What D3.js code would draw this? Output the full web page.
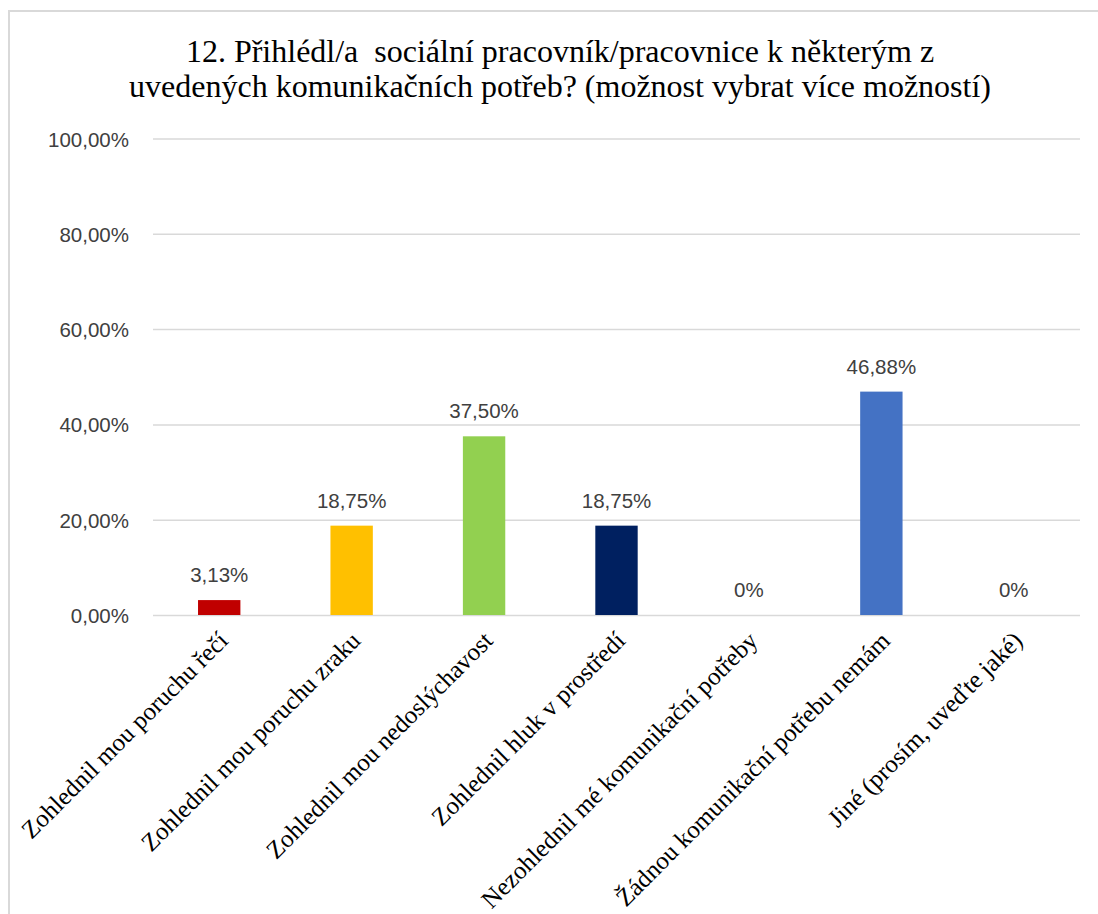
<!DOCTYPE html>
<html>
<head>
<meta charset="utf-8">
<script src="https://cdn.jsdelivr.net/npm/d3@7"></script>
<style>
  body { margin: 0; background: #fff; }
  .title { font-family: "Liberation Serif", "Times New Roman", serif; font-size: 32px; fill: #000; white-space: pre; }
  .y-axis text, .bar-label { font-family: "Liberation Sans", Arial, sans-serif; font-size: 20.5px; fill: #404040; }
  .x-label { font-family: "Liberation Serif", "Times New Roman", serif; font-size: 25px; fill: #000; }
  .y-axis line { stroke: #d9d9d9; stroke-width: 1.5; }
  .y-axis .domain { display: none; }
</style>
</head>
<body>
<div id="chart"></div>
<script>
// data
var titleLines = [
  "12. Přihlédl/a  sociální pracovník/pracovnice k některým z",
  "uvedených komunikačních potřeb? (možnost vybrat více možností)"
];
var categories = [
  "Zohlednil mou poruchu řečí",
  "Zohlednil mou poruchu zraku",
  "Zohlednil mou nedoslýchavost",
  "Zohlednil hluk v prostředí",
  "Nezohlednil mé komunikační potřeby",
  "Žádnou komunikační potřebu nemám",
  "Jiné (prosím, uveďte jaké)"
];
var values = [0.0313, 0.1875, 0.375, 0.1875, 0, 0.4688, 0];
var colors = ["#c00000", "#ffc000", "#92d050", "#002060", "#4472c4", "#4472c4", "#4472c4"];
var yTicks = [0, 0.2, 0.4, 0.6, 0.8, 1];

var locale = d3.formatLocale({ decimal: ",", thousands: " ", grouping: [3], currency: ["", " Kč"] });
var pct = locale.format(".2%");

var margin = { top: 138.5, left: 153 };
var width = 927, height = 476.5;

var svg = d3.select("#chart").append("svg")
  .attr("width", 1098)
  .attr("height", 914);

// chart border (only top/left visible in the crop)
svg.append("rect")
  .attr("x", 9).attr("y", 11)
  .attr("width", 1200).attr("height", 1000)
  .attr("fill", "none")
  .attr("stroke", "#d9d9d9")
  .attr("stroke-width", 2);

svg.append("text")
  .attr("class", "title")
  .attr("text-anchor", "middle")
  .selectAll("tspan").data(titleLines).enter().append("tspan")
  .attr("x", 560)
  .attr("y", function(d, i){ return 61.5 + i * 35; })
  .text(function(d){ return d; });

var g = svg.append("g")
  .attr("transform", "translate(" + margin.left + "," + margin.top + ")");

var x = d3.scaleBand()
  .domain(categories)
  .range([0, width])
  .paddingInner(0.68)
  .paddingOuter(0.34);

var y = d3.scaleLinear()
  .domain([0, 1])
  .range([height, 0]);

g.append("g")
  .attr("class", "y-axis")
  .call(d3.axisLeft(y).tickValues(yTicks).tickFormat(pct).tickSize(-width).tickPadding(24))
  .selectAll("text")
  .attr("dy", "0.37em");

g.selectAll(".bar")
  .data(values)
  .enter().append("rect")
  .attr("class", "bar")
  .attr("x", function(d, i){ return x(categories[i]); })
  .attr("y", function(d){ return y(d); })
  .attr("width", x.bandwidth())
  .attr("height", function(d){ return height - y(d); })
  .attr("fill", function(d, i){ return colors[i]; });

g.selectAll(".bar-label")
  .data(values)
  .enter().append("text")
  .attr("class", "bar-label")
  .attr("text-anchor", "middle")
  .attr("x", function(d, i){ return x(categories[i]) + x.bandwidth() / 2; })
  .attr("y", function(d){ return y(d) - 18; })
  .text(function(d){ return d === 0 ? "0%" : pct(d); });

g.selectAll(".x-label")
  .data(categories)
  .enter().append("text")
  .attr("class", "x-label")
  .attr("text-anchor", "end")
  .attr("dy", "0.35em")
  .attr("transform", function(d){
    return "translate(" + (x(d) + x.bandwidth() / 2 + 4) + "," + (height + 21) + ")rotate(-45)";
  })
  .text(function(d){ return d; });
</script>
</body>
</html>
